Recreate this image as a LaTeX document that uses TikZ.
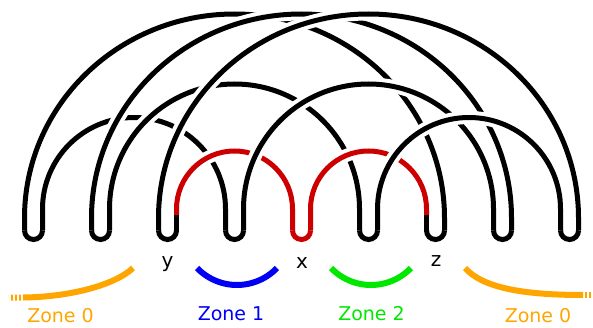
\documentclass[tikz,border=0pt]{standalone}
\usepackage{fontspec}
\setsansfont{DejaVu Sans}
\definecolor{knotred}{RGB}{204,0,0}
\definecolor{zoneorange}{RGB}{255,165,0}
\definecolor{zoneblue}{RGB}{0,0,245}
\definecolor{zonegreen}{RGB}{0,232,0}
\tikzset{
  knot/.style={line width=5pt, draw=black, preaction={draw=white, line width=13pt}},
  redknot/.style={line width=5pt, draw=knotred, preaction={draw=white, line width=13pt}},
  plain/.style={line width=5pt, draw=black},
  zonearc/.style={line width=6pt},
  zonelabel/.style={font=\sffamily\fontsize{19}{19}\selectfont, anchor=base, inner sep=0pt},
  ptlabel/.style={font=\sffamily\fontsize{20}{20}\selectfont, anchor=base, inner sep=0pt}
}
\begin{document}
\begin{tikzpicture}[x=1pt,y=1pt]
\useasboundingbox (0,0) rectangle (593,327);
% big arcs (span 6)
\draw[knot] (24.5,96.5) -- (24.5,109) arc[start angle=180,end angle=0,x radius=210,y radius=204] -- (444.5,96.5);
% B1
\draw[knot] (42.5,96.5) -- (42.5,118) arc[start angle=180,end angle=0,radius=91.5] -- (225.5,96.5);
% B2
\draw[knot] (109.5,96.5) -- (109.5,118) arc[start angle=180,end angle=0,radius=125] -- (359.5,96.5);
% C1 red
\draw[redknot] (176.5,112) -- (176.5,118) arc[start angle=180,end angle=0,radius=58] -- (292.5,96.5);
% A2
\draw[knot] (91.5,96.5) -- (91.5,109) arc[start angle=180,end angle=0,x radius=210,y radius=204] -- (511.5,96.5);
% B3
\draw[knot] (243.5,96.5) -- (243.5,118) arc[start angle=180,end angle=0,radius=125] -- (493.5,96.5);
% C2 red
\draw[redknot] (310.5,96.5) -- (310.5,118) arc[start angle=180,end angle=0,radius=58] -- (426.5,112);
% A3
\draw[knot] (158.5,96.5) -- (158.5,109) arc[start angle=180,end angle=0,x radius=210,y radius=204] -- (578.5,96.5);
% B4
\draw[knot] (377.5,96.5) -- (377.5,118) arc[start angle=180,end angle=0,radius=91.5] -- (560.5,96.5);
% black feet under the red part
\draw[plain] (176.5,96.5) -- (176.5,112);
\draw[plain] (426.5,112) -- (426.5,96.5);
% U-turns
\foreach \k in {0,1,2,3,5,6,7,8}{
  \draw[plain] ({24.5+67*\k},96.5) arc[start angle=180,end angle=360,radius=9];
}
\draw[plain, draw=knotred] (292.5,96.5) arc[start angle=180,end angle=360,radius=9];
% zone arcs
\draw[zonearc, zoneblue] (237,97.5) ++(224:55.5) arc[start angle=224,end angle=316,radius=55.5];
\draw[zonearc, zonegreen] (371,97.5) ++(224:55.5) arc[start angle=224,end angle=316,radius=55.5];
\draw[zonearc, zoneorange] (133,59) .. controls (115,42) and (70,30) .. (23,29.5);
\draw[zonearc, zoneorange, dash pattern=on 2pt off 2pt] (21,29.4) -- (9,29.3);
\draw[zonearc, zoneorange] (465,59) .. controls (482,40) and (520,32) .. (583,32);
\draw[zonearc, zoneorange, dash pattern=on 2pt off 2pt] (585,32) -- (595,32);
% labels
\node[ptlabel] (ly) at (167.5,60) {y};
\node[ptlabel] (lx) at (302,58.7) {x};
\node[ptlabel] (lz) at (436,60.3) {z};
\node[zonelabel, text=zoneorange] (z0l) at (60.5,4.8) {Zone 0};
\node[zonelabel, text=zoneblue] (z1) at (231,6.5) {Zone 1};
\node[zonelabel, text=zonegreen] (z2) at (371.5,6.5) {Zone 2};
\node[zonelabel, text=zoneorange] (z0r) at (538,4.8) {Zone 0};
\end{tikzpicture}
\end{document}
